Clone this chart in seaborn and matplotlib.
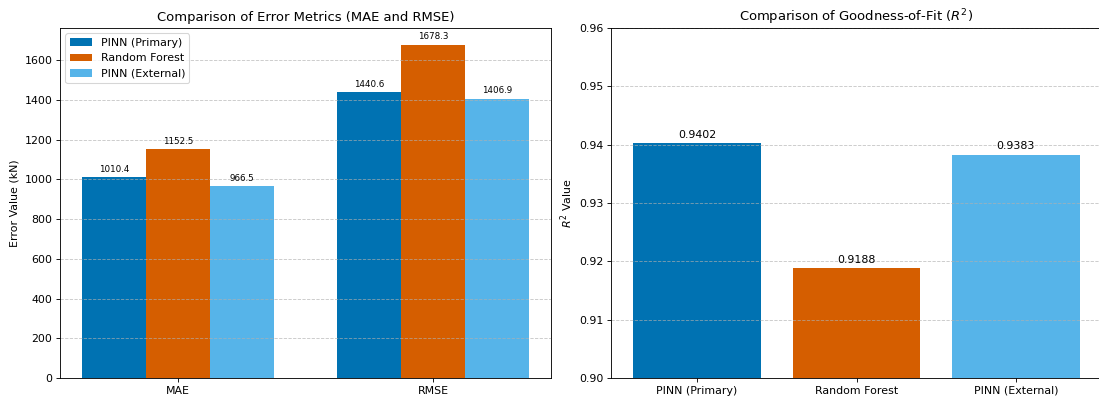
import matplotlib
matplotlib.use("Agg")
import matplotlib.pyplot as plt
import seaborn as sns
import pandas as pd

metrics = ["MAE", "RMSE"]
models = ["PINN (Primary)", "Random Forest", "PINN (External)"]
mae_values = [1010.4, 1152.5, 966.5]
rmse_values = [1440.6, 1678.3, 1406.9]
r2_values = [0.9402, 0.9188, 0.9383]
colors = ["#0072B2", "#D55E00", "#56B4E9"]

rows = []
for m, v in zip(models, mae_values):
    rows.append({"metric": "MAE", "model": m, "value": v})
for m, v in zip(models, rmse_values):
    rows.append({"metric": "RMSE", "model": m, "value": v})
err_df = pd.DataFrame(rows)
r2_df = pd.DataFrame({"model": models, "r2": r2_values})

DPI = 79
fig = plt.figure(figsize=(1099 / DPI, 398 / DPI), dpi=DPI)
ax1 = fig.add_axes([60 / 1099, 20 / 398, 491 / 1099, 350 / 398])
ax2 = fig.add_axes([611 / 1099, 20 / 398, 491 / 1099, 350 / 398])

# Left: error metrics
sns.barplot(data=err_df, x="metric", y="value", hue="model", order=metrics,
            hue_order=models, palette=colors, saturation=1, width=0.75,
            ax=ax1, errorbar=None)
for c in ax1.containers:
    ax1.bar_label(c, fmt="%.1f", padding=3, fontsize=8)
ax1.set_xlim(-0.4625, 1.4625)
ax1.set_ylim(0, max(mae_values + rmse_values) * 1.05)
ax1.set_xlabel("")
ax1.set_ylabel("Error Value (kN)")
ax1.set_title("Comparison of Error Metrics (MAE and RMSE)")
ax1.legend(loc="upper left")
ax1.grid(axis="y", linestyle="--", alpha=0.7, zorder=1.5)

# Right: R^2
sns.barplot(data=r2_df, x="model", y="r2", hue="model", order=models,
            hue_order=models, palette=colors, saturation=1, width=0.8,
            ax=ax2, errorbar=None, legend=False)
for c in ax2.containers:
    ax2.bar_label(c, fmt="%.4f", padding=3, fontsize=10)
ax2.set_xlim(-0.54, 2.54)
ax2.set_ylim(0.90, 0.96)
ax2.set_xlabel("")
ax2.set_ylabel("$R^2$ Value")
ax2.set_title("Comparison of Goodness-of-Fit ($R^2$)")
ax2.grid(axis="y", linestyle="--", alpha=0.7, zorder=1.5)

for ax in (ax1, ax2):
    ax.set_axisbelow("line")
    for s in ax.spines.values():
        s.set_zorder(3)

fig.savefig("out.png", dpi=DPI)
